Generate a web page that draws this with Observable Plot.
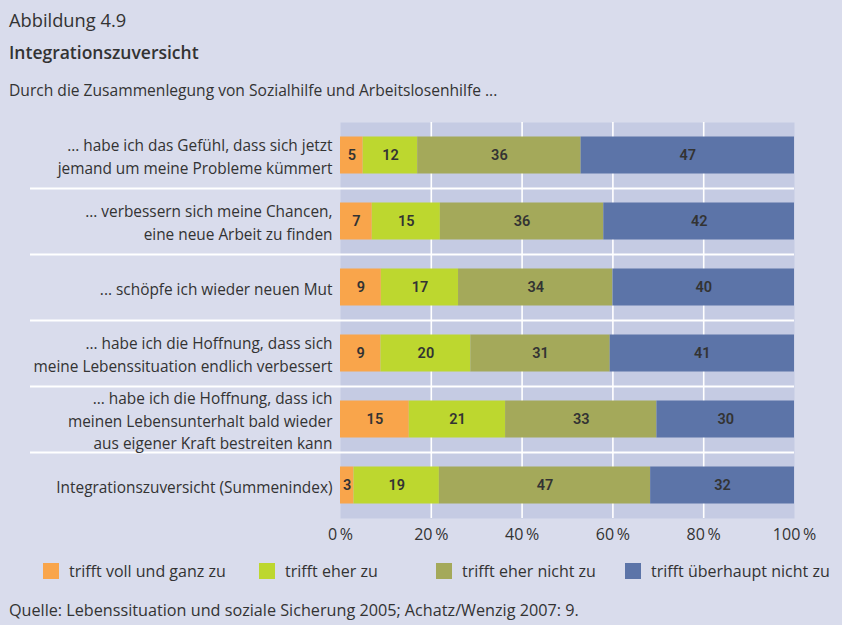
<!DOCTYPE html>
<html>
<head>
<meta charset="utf-8">
<script src="https://cdn.jsdelivr.net/npm/d3@7"></script>
<script src="https://cdn.jsdelivr.net/npm/@observablehq/plot@0.6"></script>
<style>
  html, body { margin: 0; padding: 0; }
  body { width: 842px; height: 625px; background: #d9dcec; font-family: "Open Sans", sans-serif; color: #333; overflow: hidden; }
  #page { position: relative; width: 839px; height: 625px; margin-left: 3px; background: #d9dcec; }
  #fig, #title, #sub, #source { position: absolute; left: 6px; line-height: normal; white-space: nowrap; }
  #fig { top: 6.5px; font-size: 18.3px; font-weight: 400; }
  #title { top: 40px; font-size: 17.5px; font-weight: 600; }
  #sub { top: 79px; font-size: 15.6px; }
  #chart { position: absolute; left: -3px; top: 110px; }
  #legend { position: absolute; left: 40px; top: 560px; display: flex; font-size: 16px; white-space: nowrap; }
  .item { display: flex; align-items: center; }
  .sw { width: 16px; height: 16px; margin-right: 10px; flex: none; }
  #source { top: 598.5px; font-size: 16.2px; }
</style>
</head>
<body>
<div id="page">
  <div id="fig">Abbildung 4.9</div>
  <div id="title">Integrationszuversicht</div>
  <div id="sub">Durch die Zusammenlegung von Sozialhilfe und Arbeitslosenhilfe ...</div>
  <div id="chart"></div>
  <div id="legend"></div>
  <div id="source">Quelle: Lebenssituation und soziale Sicherung 2005; Achatz/Wenzig 2007: 9.</div>
</div>
<script>
const categories = ["trifft voll und ganz zu", "trifft eher zu", "trifft eher nicht zu", "trifft überhaupt nicht zu"];
const colors = ["#f9a54b", "#bdd72f", "#a4a95a", "#5c74a8"];
const questions = [
  "... habe ich das Gefühl, dass sich jetzt\njemand um meine Probleme kümmert",
  "... verbessern sich meine Chancen,\neine neue Arbeit zu finden",
  "... schöpfe ich wieder neuen Mut",
  "... habe ich die Hoffnung, dass sich\nmeine Lebenssituation endlich verbessert",
  "... habe ich die Hoffnung, dass ich\nmeinen Lebensunterhalt bald wieder\naus eigener Kraft bestreiten kann",
  "Integrationszuversicht (Summenindex)"
];
const trifftVoll = [5, 7, 9, 9, 15, 3];
const trifftEher = [12, 15, 17, 20, 21, 19];
const trifftEherNicht = [36, 36, 34, 31, 33, 47];
const trifftUeberhauptNicht = [47, 42, 40, 41, 30, 32];
const xTicks = [0, 0.2, 0.4, 0.6, 0.8, 1];

const series = [trifftVoll, trifftEher, trifftEherNicht, trifftUeberhauptNicht];
const data = [];
questions.forEach((q, i) => {
  categories.forEach((c, j) => data.push({q, cat: c, value: series[j][i]}));
});

const W = 842, mL = 340, mR = 48, mT = 12, mB = 35, plotH = 396;
const step = plotH / questions.length;

const chart = Plot.plot({
  width: W,
  height: mT + plotH + mB,
  marginLeft: mL,
  marginRight: mR,
  marginTop: mT,
  marginBottom: mB,
  style: {fontFamily: "'Open Sans', sans-serif", fontSize: "16px", color: "#333", background: "transparent", overflow: "visible"},
  x: {domain: [0, 1], ticks: xTicks, tickFormat: d => `${Math.round(d * 100)}\u2009%`, tickSize: 0, tickPadding: 10, label: null},
  y: {domain: questions, padding: 0, axis: null},
  color: {domain: categories, range: colors},
  marks: [
    Plot.frame({fill: "#c5cbe3", stroke: null}),
    Plot.ruleX(xTicks.slice(1, -1), {stroke: "white", strokeWidth: 1.6}),
    Plot.barX(data, Plot.stackX({x: "value", y: "q", fill: "cat", offset: "normalize", insetTop: 14.5, insetBottom: 14.5})),
    Plot.text(data, Plot.stackX({x: "value", y: "q", z: "cat", offset: "normalize", text: d => String(d.value), fill: "#333", fontSize: 14.5, fontWeight: 600, fontFamily: "Roboto, sans-serif"})),
    Plot.ruleY(questions.slice(1), {y: d => d, dy: -step / 2, insetLeft: -(mL - 30), stroke: "white", strokeWidth: 2}),
    Plot.text(questions, {y: d => d, text: d => d, frameAnchor: "left", textAnchor: "end", dx: -8, fontSize: 15.4, lineHeight: 1.47, fill: "#333"})
  ]
});
document.getElementById("chart").appendChild(chart);

const legend = document.getElementById("legend");
const itemWidths = [216, 177, 189, null];
categories.forEach((c, i) => {
  const it = document.createElement("div");
  it.className = "item";
  if (itemWidths[i]) it.style.width = itemWidths[i] + "px";
  const sw = document.createElement("div");
  sw.className = "sw";
  sw.style.background = colors[i];
  const t = document.createElement("span");
  t.textContent = c;
  it.appendChild(sw); it.appendChild(t);
  legend.appendChild(it);
});
</script>
</body>
</html>
